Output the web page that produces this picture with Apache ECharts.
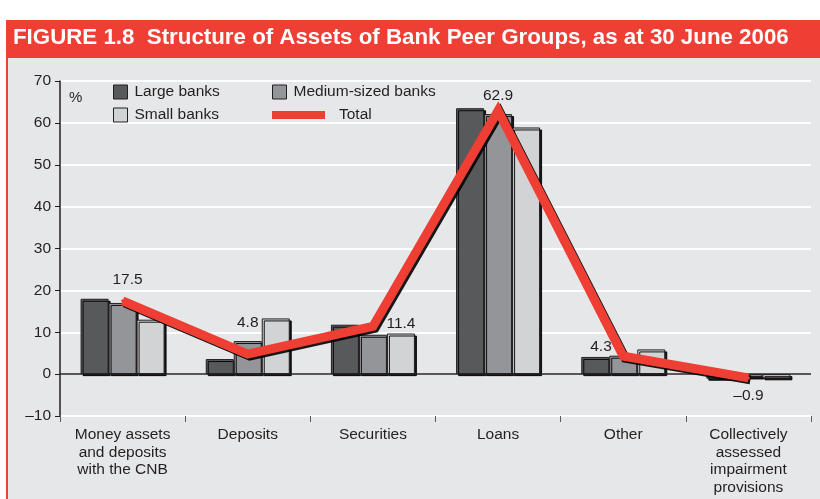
<!DOCTYPE html>
<html>
<head>
<meta charset="utf-8">
<script src="https://cdn.jsdelivr.net/npm/echarts@6/dist/echarts.min.js"></script>
<style>
  html, body { margin: 0; padding: 0; background: #ffffff; }
  #chart { width: 820px; height: 499px; }
</style>
</head>
<body>
<div id="chart"></div>
<script>
// Asset structure by bank peer group (% of total assets), 30 June 2006
const categories = [
  'Money assets\nand deposits\nwith the CNB',
  'Deposits',
  'Securities',
  'Loans',
  'Other',
  'Collectively\nassessed\nimpairment\nprovisions'
];
const largeBanks  = [18.0, 3.6, 11.8, 63.5, 4.1, -1.1];
const mediumBanks = [17.0, 7.9,  9.4, 62.1, 4.4, -0.8];
const smallBanks  = [13.0, 13.3, 9.7, 58.9, 5.9, -1.0];
const total       = [17.5, 4.8, 11.4, 62.9, 4.3, -0.9];

const yMin = -10, yMax = 70, yStep = 10;

const FONT = "'Liberation Sans', Arial, Helvetica, sans-serif";
const INK = '#231F20';
const RED = '#EF3E33';

const fmt = v => String(v).replace('-', '\u2013');

// where each value label on the Total line sits
const totalLabelPlacement = [
  { position: 'top', distance: 12, offset: [5, 0] },
  { position: 'top', distance: 22 },
  { position: 'right', distance: 12, offset: [0, -3] },
  { position: 'top', distance: 6 },
  { position: 'left', distance: 10, offset: [0, -9] },
  { position: 'bottom', distance: 8 }
];

const barStyle = color => ({
  color: color,
  borderColor: INK,
  borderWidth: 1,
  shadowColor: 'rgba(0,0,0,0.9)',
  shadowBlur: 0,
  shadowOffsetX: 2,
  shadowOffsetY: 2
});

const legendText = { fontFamily: FONT, fontSize: 15.5, color: INK, padding: [0, 0, 0, 2] };
const legendSquare = color => ({ color: color, borderColor: INK, borderWidth: 1, shadowBlur: 0, shadowOffsetX: 0, shadowOffsetY: 0 });

const chart = echarts.init(document.getElementById('chart'), null, { renderer: 'canvas' });

chart.setOption({
  animation: false,
  backgroundColor: '#ffffff',
  textStyle: { fontFamily: FONT },
  graphic: [
    { type: 'rect', z: -10, shape: { x: 8, y: 58, width: 812, height: 441 }, style: { fill: '#E6E7E8' } },
    { type: 'rect', z: -10, shape: { x: 6, y: 20, width: 814, height: 38 }, style: { fill: RED } },
    { type: 'rect', z: -10, shape: { x: 6, y: 20, width: 2, height: 479 }, style: { fill: RED } }
  ],
  title: {
    text: 'FIGURE 1.8  Structure of Assets of Bank Peer Groups, as at 30 June 2006',
    left: 13,
    top: 27,
    padding: 0,
    textStyle: { fontFamily: FONT, fontSize: 22.3, fontWeight: 'bold', color: '#ffffff' }
  },
  legend: [
    { data: ['Large banks'], left: 113, top: 84, itemWidth: 14, itemHeight: 14, icon: 'rect', padding: 0,
      itemStyle: legendSquare('#58595B'), textStyle: legendText },
    { data: ['Medium-sized banks'], left: 272, top: 84, itemWidth: 14, itemHeight: 14, icon: 'rect', padding: 0,
      itemStyle: legendSquare('#939598'), textStyle: legendText },
    { data: ['Small banks'], left: 113, top: 107, itemWidth: 14, itemHeight: 14, icon: 'rect', padding: 0,
      itemStyle: legendSquare('#D1D3D4'), textStyle: legendText },
    { data: ['Total'], left: 272, top: 107, itemWidth: 53, itemHeight: 8, icon: 'rect', padding: 0,
      itemStyle: { color: RED, opacity: 1, borderWidth: 0, shadowBlur: 0, shadowOffsetX: 0, shadowOffsetY: 0 },
      textStyle: Object.assign({}, legendText, { padding: [0, 0, 0, 9] }) }
  ],
  grid: { left: 60, right: 9, top: 81, bottom: 83, containLabel: false },
  xAxis: {
    type: 'category',
    data: categories,
    boundaryGap: true,
    axisLine: { show: false, onZero: false },
    axisTick: { show: true, length: 6, lineStyle: { color: '#58595B', width: 1 } },
    axisLabel: { fontFamily: FONT, fontSize: 15.5, color: INK, lineHeight: 17.5, margin: 10, interval: 0 },
    splitLine: { show: false }
  },
  yAxis: {
    type: 'value',
    min: yMin,
    max: yMax,
    interval: yStep,
    name: '%',
    nameLocation: 'end',
    nameGap: -24,
    nameTextStyle: { fontFamily: FONT, fontSize: 15, color: INK, align: 'left', padding: [0, 0, 0, 9] },
    axisLine: { show: true, lineStyle: { color: INK, width: 1.5 } },
    axisTick: { show: true, length: 5, lineStyle: { color: INK, width: 1 } },
    axisLabel: { fontFamily: FONT, fontSize: 15.5, color: INK, margin: 9, formatter: v => fmt(v) },
    splitLine: { show: true, lineStyle: { color: '#ffffff', width: 2 } }
  },
  series: [
    {
      name: 'Large banks',
      type: 'bar',
      data: largeBanks,
      barWidth: 28,
      barGap: '0%',
      itemStyle: barStyle('#58595B'),
      markLine: {
        silent: true,
        symbol: 'none',
        label: { show: false },
        lineStyle: { color: INK, width: 1.5, type: 'solid' },
        data: [{ yAxis: 0 }],
        z: 5
      }
    },
    {
      name: 'Medium-sized banks',
      type: 'bar',
      data: mediumBanks,
      barWidth: 28,
      barGap: '0%',
      itemStyle: barStyle('#939598')
    },
    {
      name: 'Small banks',
      type: 'bar',
      data: smallBanks,
      barWidth: 28,
      barGap: '0%',
      itemStyle: barStyle('#D1D3D4')
    },
    {
      name: 'Total',
      type: 'line',
      z: 10,
      symbol: 'circle',
      symbolSize: 3,
      showSymbol: true,
      showAllSymbol: true,
      data: total.map((v, i) => ({
        value: v,
        label: Object.assign({ show: true }, totalLabelPlacement[i])
      })),
      lineStyle: {
        color: RED,
        width: 9,
        join: 'miter',
        shadowColor: 'rgba(0,0,0,0.9)',
        shadowBlur: 0,
        shadowOffsetX: 2,
        shadowOffsetY: 2
      },
      itemStyle: { color: RED, borderWidth: 0 },
      label: {
        show: true,
        fontFamily: FONT,
        fontSize: 15.5,
        color: INK,
        formatter: p => fmt(p.value)
      }
    }
  ]
});
</script>
</body>
</html>
